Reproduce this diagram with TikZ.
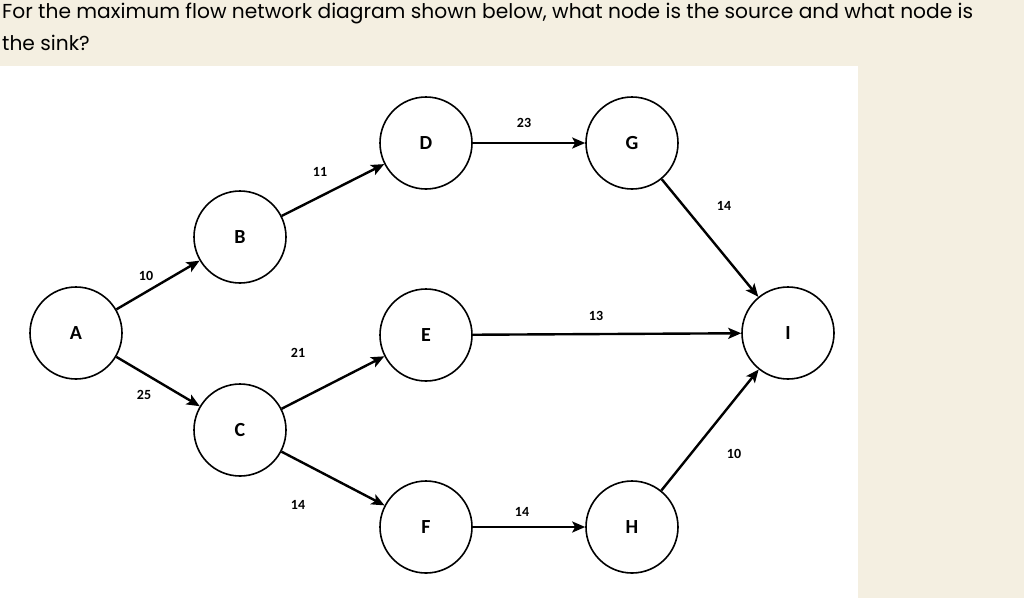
\documentclass[tikz,border=0pt]{standalone}
\usepackage{fontspec}
\setmainfont{Carlito}
\newfontfamily\titlefont{Poppins}
\usetikzlibrary{arrows.meta}
\definecolor{bgc}{HTML}{F4EFE1}
\begin{document}
\begin{tikzpicture}[x=1pt,y=-1pt,
  vtx/.style={circle,draw,line width=1.6pt,minimum size=92pt,inner sep=0pt,font=\bfseries\fontsize{20}{20}\selectfont},
  arc/.style={line width=2.4pt,-{Stealth[length=13pt,width=11pt,inset=3pt]}},
  wt/.style={font=\bfseries\fontsize{14}{14}\selectfont}]
\fill[bgc] (0,0) rectangle (1024,598);
\useasboundingbox (0,0) rectangle (1024,598);
\fill[white] (0,66) rectangle (858,598);
\node[anchor=base west,font=\titlefont\fontsize{20.2}{20}\selectfont,inner sep=0pt] (t1) at (2,18) {For the maximum flow network diagram shown below, what node is the source and what node is};
\node[anchor=base west,font=\titlefont\fontsize{20.2}{20}\selectfont,inner sep=0pt] (t2) at (2,50) {the sink?};
\node[vtx] (A) at (76,333) {A};
\node[vtx] (B) at (240,237) {B};
\node[vtx] (C) at (240,430) {C};
\node[vtx] (D) at (426,143) {D};
\node[vtx] (E) at (426,335) {E};
\node[vtx] (F) at (426,527) {F};
\node[vtx] (G) at (632,143) {G};
\node[vtx] (H) at (632,527) {H};
\node[vtx] (I) at (788,333) {I};
\draw[arc] (A) -- (B);
\draw[arc] (A) -- (C);
\draw[arc] (B) -- (D);
\draw[arc] (C) -- (E);
\draw[arc] (C) -- (F);
\draw[arc] (D) -- (G);
\draw[arc] (E) -- (I);
\draw[arc] (F) -- (H);
\draw[arc] (G) -- (I);
\draw[arc] (H) -- (I);
\node[wt] (w1) at (146,276) {10};
\node[wt] (w2) at (144,395) {25};
\node[wt] (w3) at (320,172) {11};
\node[wt] (w4) at (298,353) {21};
\node[wt] (w5) at (298,505) {14};
\node[wt] (w6) at (524,123) {23};
\node[wt] (w7) at (596,316) {13};
\node[wt] (w8) at (522,512) {14};
\node[wt] (w9) at (724,206) {14};
\node[wt] (w10) at (734,454) {10};
\end{tikzpicture}
\end{document}
